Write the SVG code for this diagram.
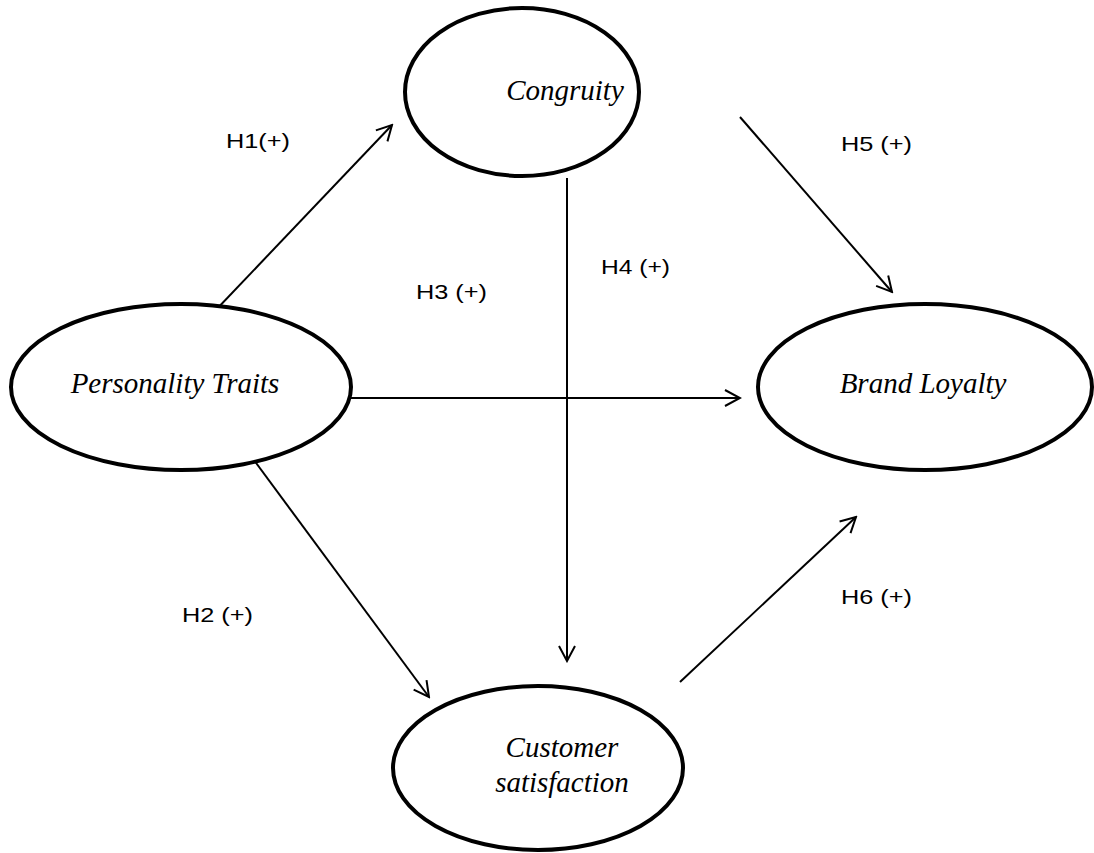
<svg xmlns="http://www.w3.org/2000/svg" width="1094" height="853" viewBox="0 0 1094 853">
  <style>
    .node ellipse { fill: #ffffff; stroke: #000000; stroke-width: 4; }
    .node text { font-family: "Liberation Serif", "Times New Roman", serif; font-style: italic; font-size: 29px; fill: #000000; text-anchor: middle; }
    .conn line { stroke: #000000; stroke-width: 2; fill: none; }
    .lbl { font-family: "Liberation Sans", Arial, sans-serif; font-size: 21px; fill: #000000; }
  </style>
  <defs>
    <marker id="arr" markerUnits="userSpaceOnUse" markerWidth="20" markerHeight="20" viewBox="-18 -10 20 20" refX="0" refY="0" orient="auto">
      <path d="M-15,-8 L0,0 L-15,8" fill="none" stroke="#000000" stroke-width="2"/>
    </marker>
  </defs>
  <rect width="1094" height="853" fill="#ffffff"/>

  <g id="connectors" class="conn">
    <line x1="213" y1="313" x2="392" y2="125" marker-end="url(#arr)"/>
    <line x1="740" y1="117" x2="892" y2="292" marker-end="url(#arr)"/>
    <line x1="567" y1="178" x2="567" y2="661" marker-end="url(#arr)"/>
    <line x1="350" y1="398" x2="740" y2="398" marker-end="url(#arr)"/>
    <line x1="245" y1="448" x2="429" y2="697" marker-end="url(#arr)"/>
    <line x1="680" y1="682" x2="856" y2="517" marker-end="url(#arr)"/>
  </g>

  <g id="labels">
    <text class="lbl" x="226" y="148" textLength="64" lengthAdjust="spacingAndGlyphs">H1(+)</text>
    <text class="lbl" x="841" y="151" textLength="71" lengthAdjust="spacingAndGlyphs">H5 (+)</text>
    <text class="lbl" x="601" y="274" textLength="69" lengthAdjust="spacingAndGlyphs">H4 (+)</text>
    <text class="lbl" x="416" y="299" textLength="71" lengthAdjust="spacingAndGlyphs">H3 (+)</text>
    <text class="lbl" x="182" y="622" textLength="71" lengthAdjust="spacingAndGlyphs">H2 (+)</text>
    <text class="lbl" x="841" y="604" textLength="71" lengthAdjust="spacingAndGlyphs">H6 (+)</text>
  </g>

  <g id="node-congruity" class="node">
    <ellipse cx="522" cy="92" rx="117" ry="84"/>
    <text x="565" y="100">Congruity</text>
  </g>
  <g id="node-personality" class="node">
    <ellipse cx="181" cy="387" rx="170" ry="83"/>
    <text x="175" y="393">Personality Traits</text>
  </g>
  <g id="node-brand" class="node">
    <ellipse cx="925" cy="387" rx="167" ry="83"/>
    <text x="923" y="393">Brand Loyalty</text>
  </g>
  <g id="node-customer" class="node">
    <ellipse cx="538" cy="768" rx="145" ry="82"/>
    <text x="562" y="757">Customer</text>
    <text x="562" y="792">satisfaction</text>
  </g>
</svg>
